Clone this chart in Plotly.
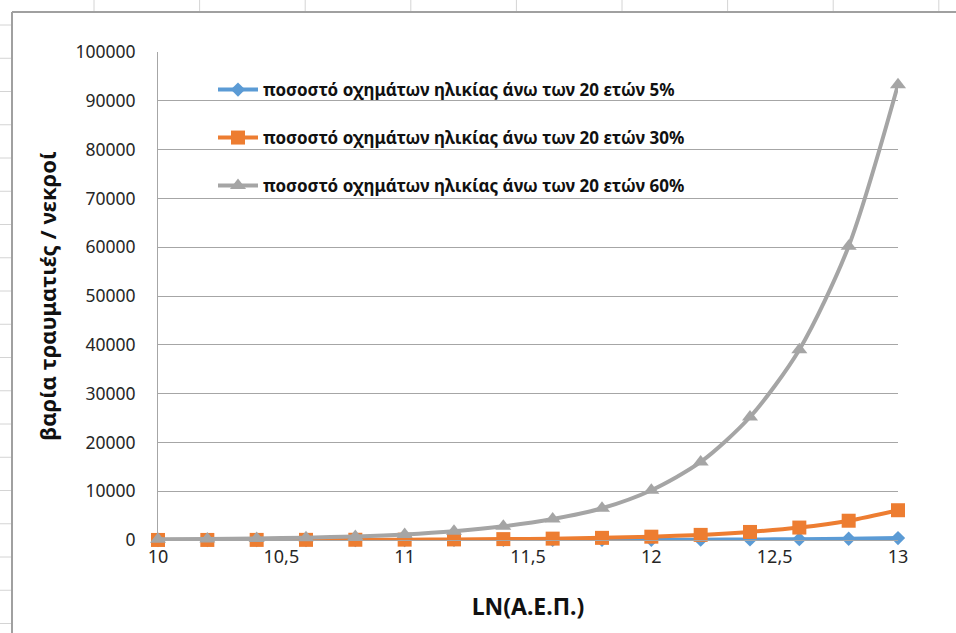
import plotly.graph_objects as go

# ---------------- data ----------------
ln_gdp = [10.0, 10.2, 10.4, 10.6, 10.8, 11.0, 11.2, 11.4, 11.6, 11.8,
          12.0, 12.2, 12.4, 12.6, 12.8, 13.0]

share_5 = [0.5, 0.8, 1.3, 2, 3, 5, 8, 12, 19, 29,
           45, 70, 110, 170, 260, 400]
share_30 = [8, 13, 20, 30, 50, 75, 120, 180, 280, 440,
            680, 1050, 1650, 2550, 3950, 6100]
share_60 = [130, 200, 310, 480, 740, 1150, 1800, 2800, 4300, 6500,
            10200, 16000, 25200, 39000, 60200, 93300]

series_names = [
    "ποσοστό οχημάτων ηλικίας άνω των 20 ετών 5%",
    "ποσοστό οχημάτων ηλικίας άνω των 20 ετών 30%",
    "ποσοστό οχημάτων ηλικίας άνω των 20 ετών 60%",
]

x_tick_vals = [10, 10.5, 11, 11.5, 12, 12.5, 13]
x_tick_text = ["10", "10,5", "11", "11,5", "12", "12,5", "13"]
y_tick_vals = [0, 10000, 20000, 30000, 40000, 50000, 60000, 70000, 80000, 90000, 100000]
y_tick_text = [str(v) for v in y_tick_vals]

x_title = "LN(Α.Ε.Π.)"
y_title = "βαρία τραυματιές / νεκροί"

# ---------------- layout geometry ----------------
W, H = 956, 633
ML, MR, MT, MB = 158, 58, 52, 93
PW, PH = W - ML - MR, H - MT - MB


def px(xp):
    return (xp - ML) / PW


def py(yp):
    return (H - MB - yp) / PH


FONT = "Noto Sans"
colors = ["#5B9BD5", "#ED7D31", "#A5A5A5"]
symbols = ["diamond", "square", "triangle-up"]
msizes = [11, 14, 14]
legends = ["legend", "legend2", "legend3"]
series = [share_5, share_30, share_60]

fig = go.Figure()
for name, ys, c, s, ms, lg in zip(series_names, series, colors, symbols, msizes, legends):
    fig.add_trace(go.Scatter(
        x=ln_gdp, y=ys, name=name, mode="lines+markers",
        line=dict(color=c, width=4, shape="spline", smoothing=0.8),
        marker=dict(symbol=s, size=ms, color=c, line=dict(width=0)),
        cliponaxis=False, legend=lg,
    ))

# spreadsheet cell lines outside the chart, and the chart border
shapes = []
for i in range(9):
    xc = 94 + 105.6 * i
    shapes.append(dict(type="line", xref="paper", yref="paper",
                       x0=px(xc), x1=px(xc), y0=py(0), y1=py(11),
                       line=dict(color="#d4d4d4", width=1)))
for i in range(19):
    yr = 25 + 33.25 * i
    shapes.append(dict(type="line", xref="paper", yref="paper",
                       x0=px(0), x1=px(11), y0=py(yr), y1=py(yr),
                       line=dict(color="#d4d4d4", width=1)))
shapes.append(dict(type="line", xref="paper", yref="paper",
                   x0=px(12), x1=px(12), y0=py(12), y1=py(H + 5),
                   line=dict(color="#a0a0a0", width=2)))
shapes.append(dict(type="line", xref="paper", yref="paper",
                   x0=px(12), x1=px(W + 5), y0=py(12), y1=py(12),
                   line=dict(color="#a0a0a0", width=2)))

leg_common = dict(xanchor="left", yanchor="middle", bgcolor="rgba(0,0,0,0)",
                  borderwidth=0, itemwidth=40,
                  font=dict(family=FONT, size=17, color="#111111", weight="bold"))
leg_y = [90, 138, 186]

fig.update_layout(
    width=W, height=H,
    margin=dict(l=ML, r=MR, t=MT, b=MB),
    paper_bgcolor="white", plot_bgcolor="white",
    showlegend=True,
    legend=dict(x=px(213), y=py(leg_y[0]), **leg_common),
    legend2=dict(x=px(213), y=py(leg_y[1]), **leg_common),
    legend3=dict(x=px(213), y=py(leg_y[2]), **leg_common),
    shapes=shapes,
    xaxis=dict(
        range=[10, 13], tickvals=x_tick_vals, ticktext=x_tick_text,
        showgrid=False, zeroline=False, showline=True,
        linecolor="#a6a6a6", linewidth=1, ticks="",
        tickfont=dict(family=FONT, size=18, color="#262626"),
        ticklabelstandoff=0,
        title=dict(text=x_title, standoff=32,
                   font=dict(family=FONT, size=23, color="#111111", weight="bold")),
    ),
    yaxis=dict(
        range=[0, 100000], tickvals=y_tick_vals, ticktext=y_tick_text,
        showgrid=True, gridcolor="#a6a6a6", gridwidth=1,
        zeroline=False, showline=True, linecolor="#a6a6a6", linewidth=1,
        ticks="", ticklabelstandoff=18,
        tickfont=dict(family=FONT, size=17.5, color="#262626"),
        title=dict(text=y_title, standoff=12,
                   font=dict(family=FONT, size=22, color="#111111", weight="bold")),
    ),
)

fig.write_html("out.html")
